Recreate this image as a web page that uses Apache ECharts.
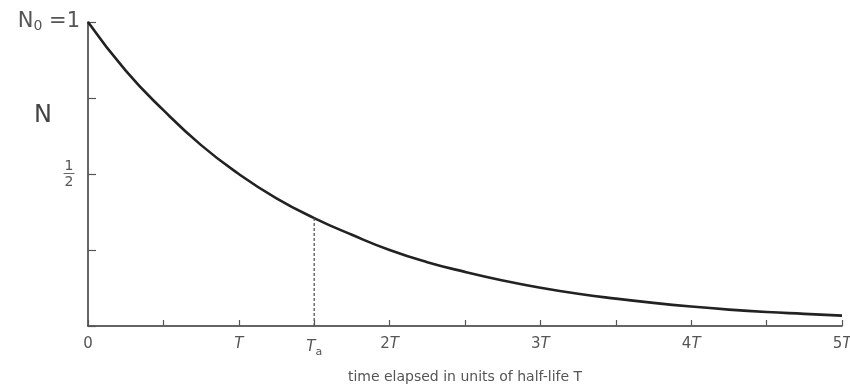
<!DOCTYPE html>
<html>
<head>
<meta charset="utf-8">
<script src="https://cdn.jsdelivr.net/npm/echarts@6/dist/echarts.min.js"></script>
<style>
  html, body { margin: 0; padding: 0; background: #fff; }
  #chart { width: 850px; height: 384px; }
</style>
</head>
<body>
<div id="chart"></div>
<script>
// Elapsed time, in half-lives T
const times = [0, 0.25, 0.5, 0.75, 1, 1.25, 1.5, 1.75, 2, 2.25, 2.5, 2.75, 3, 3.25, 3.5, 3.75, 4, 4.25, 4.5, 4.75, 5];
// Remaining fraction N of the original N0
const remaining = [1.00, 0.84, 0.71, 0.595, 0.50, 0.42, 0.355, 0.30, 0.25, 0.21, 0.178, 0.15, 0.126, 0.106, 0.09, 0.076, 0.064, 0.054, 0.046, 0.04, 0.034];
// Mean life marker Ta and the value of N there
const meanLifeT = 1.5;
const meanLifeN = 0.355;
// Tick labels along the time axis (every half T)
const xTickLabels = ['{up|0}', '', '{it|T}', '{it|T}{sub|a}', '{up|2}{it|T}', '', '{up|3}{it|T}', '', '{up|4}{it|T}', '', '{up|5}{it|T}'];
// Tick labels along the N axis (every quarter)
const yTickLabels = ['', '', '{frac|1}\n{bar|—}\n{frac|2}', '', '{big|N}{sub0|0}{big| =1}'];

const ink = '#333';
const font = 'DejaVu Sans';

const chart = echarts.init(document.getElementById('chart'));
chart.setOption({
  animation: false,
  backgroundColor: '#fff',
  grid: { left: 88, right: 8, top: 22, bottom: 58, containLabel: false, outerBoundsMode: 'none' },
  xAxis: {
    type: 'value',
    min: 0, max: 5, interval: 0.5,
    name: 'time elapsed in units of half-life T',
    nameLocation: 'middle',
    nameGap: 44,
    nameTextStyle: { color: '#555', fontFamily: font, fontSize: 14 },
    axisLine: { lineStyle: { color: ink, width: 1.5 } },
    axisTick: { inside: true, length: 6, lineStyle: { color: '#555', width: 1.2 } },
    splitLine: { show: false },
    axisLabel: {
      margin: 11,
      color: '#555',
      fontFamily: font,
      fontSize: 15,
      formatter: (v) => xTickLabels[Math.round(v / 0.5)] || '',
      rich: {
        up: { fontSize: 15, color: '#555', fontFamily: font },
        it: { fontSize: 15, color: '#555', fontFamily: font, fontStyle: 'italic' },
        sub: { fontSize: 11, color: '#555', fontFamily: font, padding: [10, 0, 0, 0] }
      }
    }
  },
  yAxis: {
    type: 'value',
    min: 0, max: 1, interval: 0.25,
    axisLine: { show: true, lineStyle: { color: ink, width: 1.5 } },
    axisTick: { show: true, inside: true, length: 8, lineStyle: { color: '#555', width: 1.2 } },
    splitLine: { show: false },
    axisLabel: {
      margin: 8,
      color: '#555',
      fontFamily: font,
      formatter: (v) => yTickLabels[Math.round(v / 0.25)] || '',
      rich: {
        big: { fontSize: 21, color: '#555', fontFamily: font, lineHeight: 24 },
        sub0: { fontSize: 14, color: '#555', fontFamily: font, padding: [9, 0, 0, 0] },
        frac: { fontSize: 14, color: '#555', fontFamily: font, lineHeight: 13, align: 'center', padding: [0, 5, 0, 0] },
        bar: { fontSize: 12, color: '#555', fontFamily: font, lineHeight: 3, align: 'center', padding: [0, 5, 0, 0] }
      }
    }
  },
  graphic: [{
    type: 'text',
    left: 34, top: 104,
    style: { text: 'N', fontFamily: font, fontSize: 24, fill: '#444' }
  }],
  series: [
    {
      type: 'line',
      data: times.map((t, i) => [t, remaining[i]]),
      smooth: true,
      showSymbol: false,
      lineStyle: { color: '#222', width: 2.6 }
    },
    {
      type: 'line',
      data: [[meanLifeT, 0], [meanLifeT, meanLifeN]],
      showSymbol: false,
      lineStyle: { color: '#555', width: 1.3, type: [3, 2] }
    }
  ]
});
</script>
</body>
</html>
